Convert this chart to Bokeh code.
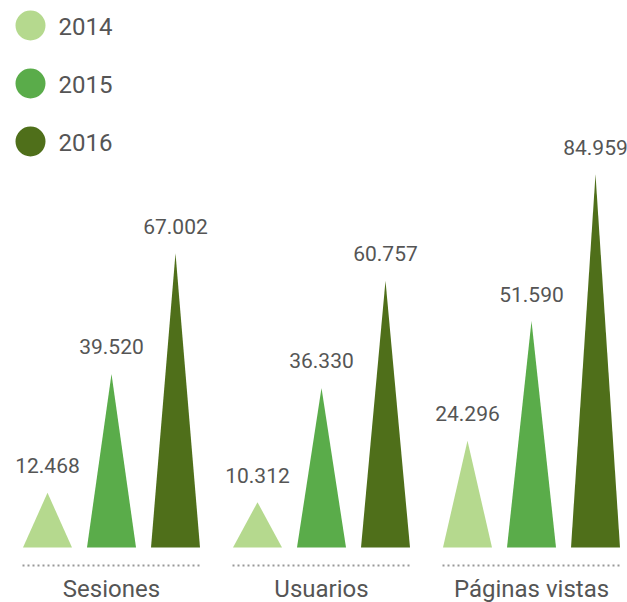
from bokeh.plotting import figure
from bokeh.models import Range1d
from bokeh.embed import file_html
from bokeh.resources import INLINE
from bokeh.core.properties import value

# ---- data ----
categories = ["Sesiones", "Usuarios", "Páginas vistas"]
years = ["2014", "2015", "2016"]
v2014 = [12468, 10312, 24296]
v2015 = [39520, 36330, 51590]
v2016 = [67002, 60757, 84959]
series = [v2014, v2015, v2016]
colors = ["#b5d98e", "#5aac4a", "#4f6f1a"]


def fmt(v):
    return f"{v:,}".replace(",", ".")


# ---- layout constants (pixels) ----
W, H = 627, 602
BASE_PX = 55            # baseline height above bottom edge
PPU = 373 / 84959       # pixels per unit value
GROUP0, GROUP_GAP = 111, 210
OFFSETS = [-64, 0, 64]
HALF = 24.5
TEXT = "#555555"


def px_to_y(px_from_top):
    return (H - px_from_top - BASE_PX) / PPU


p = figure(width=W, height=H, x_range=Range1d(0, W),
           y_range=Range1d(-BASE_PX / PPU, (H - BASE_PX) / PPU),
           output_backend="svg", toolbar_location=None, min_border=0,
           x_axis_location=None, y_axis_location=None)
p.grid.visible = False
p.outline_line_color = None
p.background_fill_color = "white"
p.border_fill_color = "white"

centers = [GROUP0 + i * GROUP_GAP for i in range(len(categories))]

for j, (vals, col) in enumerate(zip(series, colors)):
    xc = [c + OFFSETS[j] for c in centers]
    xs = [[x - HALF, x, x + HALF] for x in xc]
    ys = [[0, v, 0] for v in vals]
    p.patches(xs, ys, fill_color=col, line_color=None)
    p.text(x=xc, y=vals, text=[fmt(v) for v in vals], text_align="center",
           text_baseline="middle", y_offset=-27,
           text_font=value("Roboto"), text_font_size="21px",
           text_color=TEXT)

# dotted baselines
dot_y = -18 / PPU
p.segment(x0=[c - 89 for c in centers], x1=[c + 89 for c in centers],
          y0=[dot_y] * 3, y1=[dot_y] * 3, line_color="#999999",
          line_width=2, line_dash="2 3")

# category labels
p.text(x=centers, y=[px_to_y(588)] * 3, text=categories, text_align="center",
       text_baseline="middle", text_font=value("Roboto"),
       text_font_size="24px", text_color=TEXT)

# legend (manual)
leg_tops = [25, 83, 141]
p.scatter(x=[30] * 3, y=[px_to_y(t) for t in leg_tops], size=30,
          marker="circle", fill_color=colors, line_color=None)
p.text(x=[58] * 3, y=[px_to_y(t) for t in leg_tops], text=years,
       text_align="left", text_baseline="middle", y_offset=1,
       text_font=value("Roboto"), text_font_size="24px", text_color=TEXT)

open("out.html", "w").write(file_html(p, INLINE))
